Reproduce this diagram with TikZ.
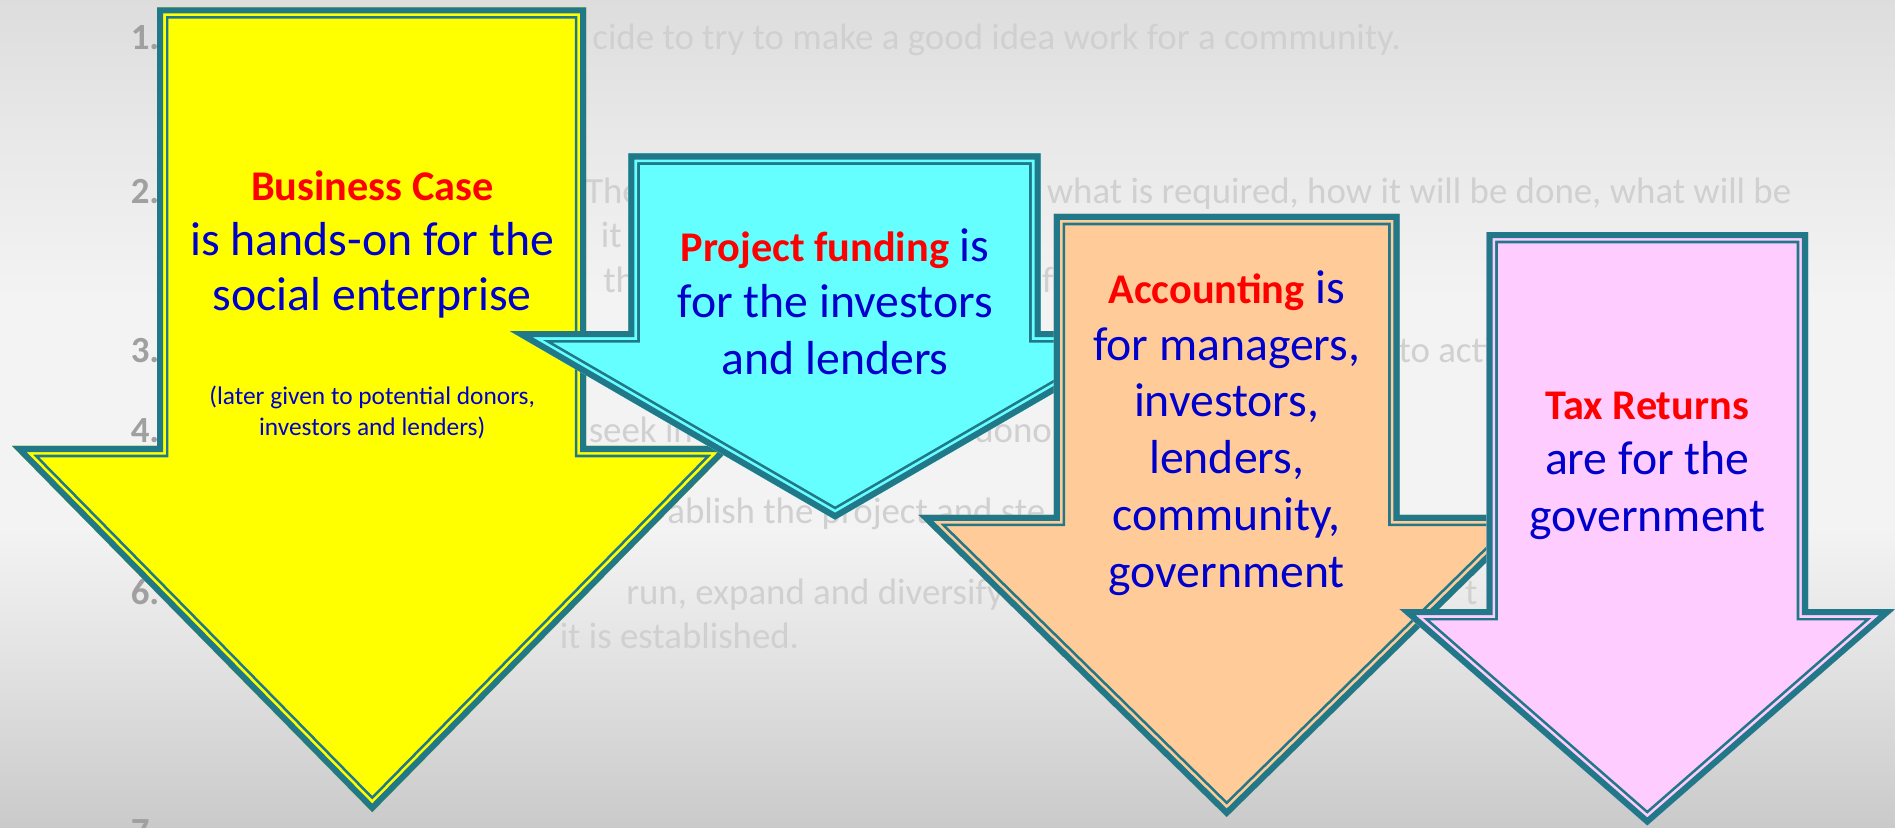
\documentclass[tikz,border=0pt]{standalone}
\usepackage{fontspec}
\setmainfont{Carlito}
\definecolor{arrowteal}{RGB}{33,120,137}
\definecolor{ayellow}{RGB}{255,255,0}
\definecolor{acyan}{RGB}{102,255,255}
\definecolor{aorange}{RGB}{255,204,153}
\definecolor{apink}{RGB}{255,204,255}
\definecolor{tred}{RGB}{255,0,0}
\definecolor{tblue}{RGB}{0,0,204}
\definecolor{bgtxt}{RGB}{208,208,208}
\definecolor{numtxt}{RGB}{160,160,160}
\definecolor{bgtop}{RGB}{221,221,221}
\definecolor{bgupper}{RGB}{232,232,232}
\definecolor{bgmid}{RGB}{243,243,243}
\definecolor{bglow}{RGB}{226,226,226}
\definecolor{bgbot}{RGB}{202,202,202}
\pgfdeclareverticalshading{bgshade}{100bp}{color(0bp)=(bgbot); color(25bp)=(bgbot); color(35bp)=(bglow); color(43bp)=(bgmid); color(57bp)=(bgmid); color(67bp)=(bgupper); color(75bp)=(bgtop); color(100bp)=(bgtop)}
\newcommand{\fancyarrow}[2]{%
  \begin{scope}
    \clip #2;
    \fill[#1] #2;
    \draw[arrowteal, line width=18.8pt, line join=miter] #2;
    \draw[#1, line width=14.4pt, line join=miter] #2;
    \draw[arrowteal, line width=10pt, line join=miter] #2;
  \end{scope}}
\newcommand{\redword}[1]{{\color{tred}\bfseries\fontsize{35}{42}\selectfont #1}}
\begin{document}
\begin{tikzpicture}[x=1pt,y=-1pt,
  bgtext/.style={text=bgtxt, font=\fontsize{30.5}{36}\selectfont, anchor=base west, inner sep=0pt},
  numtext/.style={text=numtxt, font=\bfseries\fontsize{30.5}{36}\selectfont, anchor=base west, inner sep=0pt},
  bigtext/.style={text=tblue, font=\fontsize{39.5}{46}\selectfont, anchor=base, inner sep=0pt},
  smalltext/.style={text=tblue, font=\fontsize{21}{25}\selectfont, anchor=base, inner sep=0pt}]
\useasboundingbox (0,0) rectangle (1568,685);
\clip (0,0) rectangle (1568,685);
\shade[shading=bgshade] (0,0) rectangle (1568,685);

% background list (faint)
\node[numtext] (n1) at (108,41) {1.};
\node[numtext] (n2) at (108,168) {2.};
\node[numtext] (n3) at (108,300) {3.};
\node[numtext] (n4) at (108,366) {4.};
\node[numtext] (n6) at (108,500) {6.};
\node[numtext] (n7) at (108,698) {7.};
\node[bgtext] (b1) at (490,41) {cide to try to make a good idea work for a community.};
\node[bgtext] (b2a) at (484,168) {The};
\node[bgtext] (b2b) at (866,168) {what is required, how it will be done, what will be};
\node[bgtext] (b2c) at (497,205) {it};
\node[bgtext] (b2d) at (499,242) {thr};
\node[bgtext] (b2e) at (862,242) {f};
\node[bgtext] (b3) at (1157,300) {to acti};
\node[bgtext] (b4a) at (487,366) {seek in};
\node[bgtext] (b4b) at (806,366) {donor};
\node[bgtext] (b5) at (552,433) {ablish the project and ste};
\node[bgtext] (b6a) at (518,500) {run, expand and diversify};
\node[bgtext] (b6b) at (1212,500) {t};
\node[bgtext] (b6c) at (463,537) {it is established.};

% arrows
\fancyarrow{ayellow}{(130,6) -- (485,6) -- (485,369) -- (606,369) -- (308,672) -- (10,369) -- (130,369) -- cycle}
\fancyarrow{acyan}{(520,127) -- (861,127) -- (861,274) -- (960,274) -- (691,430) -- (422,274) -- (520,274) -- cycle}
\fancyarrow{aorange}{(872,177) -- (1158,177) -- (1158,426) -- (1270,426) -- (1015,676) -- (760,426) -- (872,426) -- cycle}
\fancyarrow{apink}{(1230,192) -- (1496,192) -- (1496,504) -- (1568,504) -- (1363,683) -- (1158,504) -- (1230,504) -- cycle}

% yellow text
\node[bigtext] (y1) at (308,166) {\redword{Business Case}};
\node[bigtext] (y2) at (308,211) {is hands-on for the};
\node[bigtext] (y3) at (308,257) {social enterprise};
\node[smalltext] (y4) at (308,335) {(later given to potential donors,};
\node[smalltext] (y5) at (308,360) {investors and lenders)};
% cyan text
\node[bigtext] (c1) at (691,216) {\redword{Project funding} is};
\node[bigtext] (c2) at (691,263) {for the investors};
\node[bigtext] (c3) at (691,310) {and lenders};
% orange text
\node[bigtext] (o1) at (1015,251) {\redword{Accounting} is};
\node[bigtext] (o2) at (1015,298) {for managers,};
\node[bigtext] (o3) at (1015,345) {investors,};
\node[bigtext] (o4) at (1015,392) {lenders,};
\node[bigtext] (o5) at (1015,439) {community,};
\node[bigtext] (o6) at (1015,486) {government};
% pink text
\node[bigtext] (p1) at (1363,347) {\redword{Tax Returns}};
\node[bigtext] (p2) at (1363,393) {are for the};
\node[bigtext] (p3) at (1363,440) {government};
\end{tikzpicture}
\end{document}
